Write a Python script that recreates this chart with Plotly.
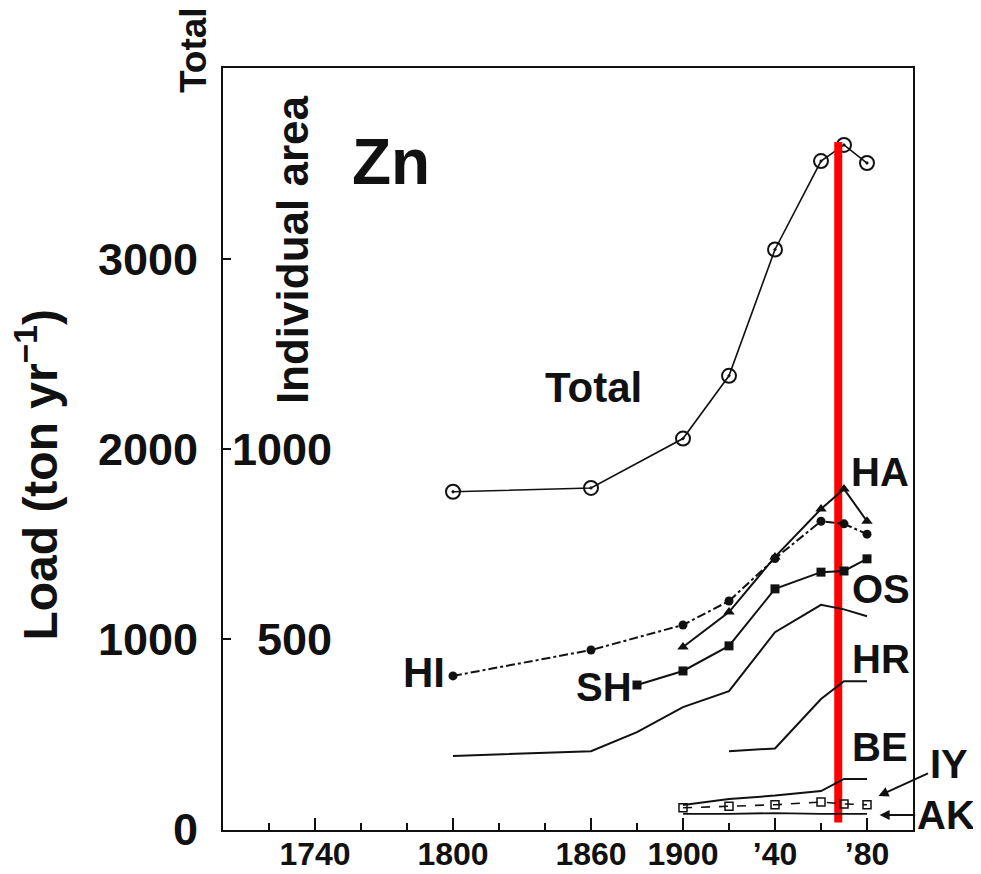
import plotly.graph_objects as go

# ---------------- data ----------------
years_total = [1800, 1860, 1900, 1920, 1940, 1960, 1970, 1980]
load_total = [1775, 1795, 2055, 2385, 3050, 3515, 3600, 3505]

years_HI = [1800, 1860, 1900, 1920, 1940, 1960, 1970, 1980]
load_HI = [403, 471, 537, 600, 712, 810, 803, 776]

years_HA = [1900, 1920, 1940, 1960, 1970, 1980]
load_HA = [479, 571, 716, 842, 895, 810]

years_SH = [1880, 1900, 1920, 1940, 1960, 1970, 1980]
load_SH = [379, 416, 482, 632, 676, 679, 711]

years_OS = [1800, 1860, 1880, 1900, 1920, 1940, 1960, 1970, 1980]
load_OS = [192, 205, 255, 321, 363, 518, 590, 578, 560]

years_HR = [1920, 1940, 1960, 1970, 1980]
load_HR = [205, 212, 342, 389, 389]

years_BE = [1900, 1920, 1940, 1960, 1970, 1980]
load_BE = [63, 79, 88, 100, 132, 132]

years_IY = [1900, 1920, 1940, 1960, 1970, 1980]
load_IY = [56, 60, 64, 71, 66, 64]

years_AK = [1900, 1920, 1940, 1960, 1980]
load_AK = [40, 40, 42, 40, 40]

x_tick_vals = [1740, 1800, 1860, 1900, 1940, 1980]
x_tick_text = ["1740", "1800", "1860", "1900", "\u201940", "\u201980"]
total_tick_vals = [0, 1000, 2000, 3000]
indiv_tick_vals = [500, 1000]

highlight_year = 1967.5
highlight_span = [35, 3615]

# ---------------- styling ----------------
FONT = "Liberation Sans, Arial, DejaVu Sans, sans-serif"
INK = "#111111"

fig = go.Figure()

def add_series(x, y, axis, dash="solid", symbol=None, msize=8, mline=0, width=2):
    mode = "lines+markers" if symbol else "lines"
    fig.add_trace(go.Scatter(
        x=x, y=y, mode=mode, yaxis=axis, showlegend=False, hoverinfo="x+y",
        line=dict(color=INK, width=width, dash=dash),
        marker=dict(symbol=symbol or "circle", size=msize, color=INK,
                    line=dict(color=INK, width=mline)),
    ))

add_series(years_total, load_total, "y", symbol="circle-open-dot", msize=14, mline=2, width=1.6)
add_series(years_HI, load_HI, "y2", dash="dashdot", symbol="circle", msize=9)
add_series(years_HA, load_HA, "y2", symbol="triangle-up", msize=10)
add_series(years_SH, load_SH, "y2", symbol="square", msize=9)
add_series(years_OS, load_OS, "y2")
add_series(years_HR, load_HR, "y2")
add_series(years_BE, load_BE, "y2")
add_series(years_IY, load_IY, "y2", dash="dash", symbol="square-open", msize=8, mline=1.5, width=1.6)
add_series(years_AK, load_AK, "y2", width=1.8)

# red highlight bar
fig.add_trace(go.Scatter(
    x=[highlight_year, highlight_year], y=highlight_span, mode="lines",
    yaxis="y", showlegend=False, hoverinfo="skip",
    line=dict(color="#ff0000", width=8),
))

axis_font = dict(family=FONT, size=45, color=INK, weight="bold")

# the page body adds an 8px offset; figure is sized to compensate
fig.update_layout(
    width=973, height=866,
    margin=dict(l=215, r=68, t=60, b=44),
    paper_bgcolor="white", plot_bgcolor="white",
    xaxis=dict(
        range=[1700, 2000], showgrid=False, zeroline=False, automargin=False,
        showline=True, linecolor=INK, linewidth=2, mirror=True,
        tickvals=x_tick_vals, ticktext=x_tick_text,
        ticks="inside", ticklen=12, tickwidth=2, tickcolor=INK,
        minor=dict(ticks="inside", ticklen=7, tickwidth=1.5, tickcolor=INK, dtick=20, tick0=1700),
        tickfont=dict(family=FONT, size=32, color=INK, weight="bold"),
        ticklabelstandoff=-5,
    ),
    yaxis=dict(
        range=[-5, 4005], showgrid=False, zeroline=False, automargin=False,
        showline=True, linecolor=INK, linewidth=2, mirror=True,
        tickvals=total_tick_vals, ticks="inside", ticklen=8, tickwidth=2, tickcolor=INK,
        tickfont=axis_font, ticklabelstandoff=14,
    ),
    yaxis2=dict(
        range=[-2.5, 2002.5], overlaying="y", side="left", anchor="free", position=0.158,
        showgrid=False, zeroline=False, showline=False, automargin=False,
        tickvals=indiv_tick_vals, ticks="", ticklabelstandoff=0,
        tickfont=axis_font,
    ),
)

series_labels = [
    ("Zn", 1773, 3510, 64),
    ("Total", 1861, 2326, 42),
    ("HA", 1985.5, 1879, 40),
    ("OS", 1986, 1263, 40),
    ("HR", 1986, 895, 40),
    ("BE", 1985.5, 432, 40),
    ("HI", 1787.5, 825, 42),
    ("SH", 1865.5, 745, 40),
]
for txt, xx, yy, sz in series_labels:
    fig.add_annotation(text=txt, x=xx, y=yy, xref="x", yref="y", showarrow=False,
                       xanchor="center", yanchor="middle",
                       font=dict(family=FONT, size=sz, color=INK, weight="bold"))

label_font = dict(family=FONT, size=40, color=INK, weight="bold")
# pointer labels outside the frame
fig.add_annotation(text="IY", x=1985, y=174, xref="x", yref="y", showarrow=True,
                   ax=70, ay=-32, arrowhead=2, arrowsize=1, arrowwidth=2, arrowcolor=INK,
                   font=label_font)
fig.add_annotation(text="AK", x=1985.5, y=74, xref="x", yref="y", showarrow=True,
                   ax=66, ay=0, arrowhead=2, arrowsize=1, arrowwidth=2, arrowcolor=INK,
                   font=label_font)

# axis titles
fig.add_annotation(text="Load (ton yr<sup>\u22121</sup>)", x=-0.27, y=0.466,
                   xref="paper", yref="paper", showarrow=False, textangle=-90,
                   xanchor="center", yanchor="middle",
                   font=dict(family=FONT, size=48, color=INK, weight="bold"))
fig.add_annotation(text="Total", x=-0.043, y=1.024, xref="paper", yref="paper",
                   showarrow=False, textangle=-90, xanchor="center", yanchor="middle",
                   font=dict(family=FONT, size=37, color=INK, weight="bold"))
fig.add_annotation(text="Individual area", x=0.1, y=0.761, xref="paper", yref="paper",
                   showarrow=False, textangle=-90, xanchor="center", yanchor="middle",
                   font=dict(family=FONT, size=44, color=INK, weight="bold"))

fig.write_html("out.html")
